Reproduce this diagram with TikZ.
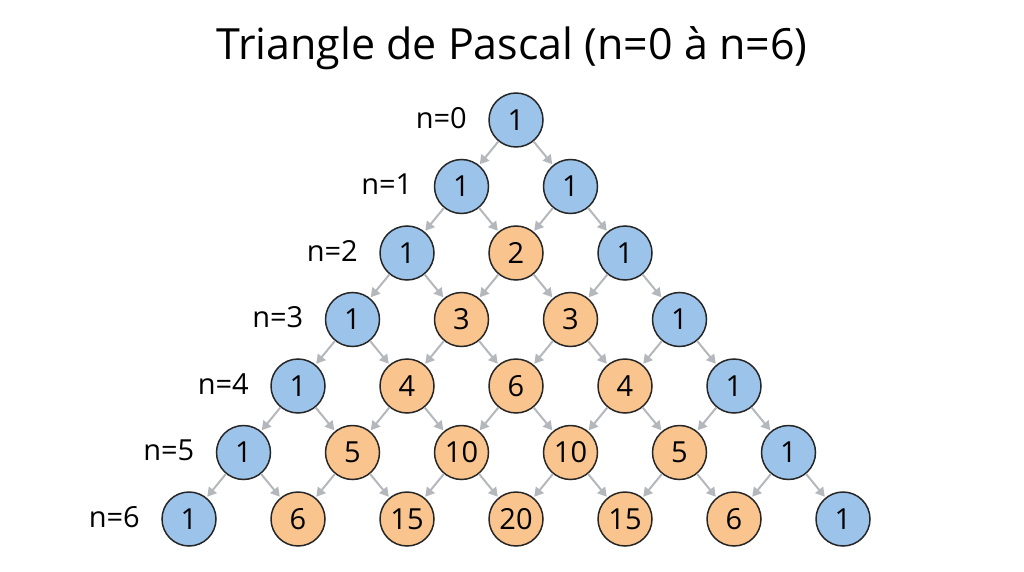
\documentclass[tikz,border=0pt]{standalone}
\usepackage{fontspec}
\setmainfont{Open Sans}
\usetikzlibrary{arrows.meta}
\definecolor{bl}{HTML}{9CC3EA}
\definecolor{or}{HTML}{F9C48D}
\definecolor{ar}{HTML}{B4B8BC}
\begin{document}
\begin{tikzpicture}[x=1pt,y=-1pt,
  cell/.style={circle,draw=black!85,line width=1.5pt,minimum size=54pt,inner sep=0pt,font=\fontsize{29}{32}\selectfont},
  edgecell/.style={cell,fill=bl},
  midcell/.style={cell,fill=or},
  lab/.style={font=\fontsize{29}{32}\selectfont,anchor=east},
  link/.style={draw=ar,line width=2pt,-{Triangle[length=9pt,width=10pt]},shorten >=1pt,shorten <=0pt}]
\useasboundingbox (0,0) rectangle (1024,572);
\node[font=\fontsize{43}{48}\selectfont] (title) at (512,48) {Triangle de Pascal (n=0 à n=6)};
\foreach \n/\vals in {0/{1},1/{1,1},2/{1,2,1},3/{1,3,3,1},4/{1,4,6,4,1},5/{1,5,10,10,5,1},6/{1,6,15,20,15,6,1}}{
  \foreach \v [count=\k from 0] in \vals {
    \pgfmathsetmacro\xx{516+(\k-\n/2)*109}
    \pgfmathsetmacro\yy{120+\n*66.5}
    \ifnum\k=0 \def\st{edgecell}\else\ifnum\k=\n \def\st{edgecell}\else\def\st{midcell}\fi\fi
    \node[\st] (c\n-\k) at (\xx,\yy) {\v};
  }
  \node[lab] (l\n) at ([xshift=-18pt,yshift=2pt]c\n-0.west) {n=\n};
}
\foreach \n in {0,...,5}{
  \pgfmathtruncatemacro\m{\n+1}
  \foreach \k in {0,...,\n}{
    \pgfmathtruncatemacro\kk{\k+1}
    \draw[link] (c\n-\k) -- (c\m-\k);
    \draw[link] (c\n-\k) -- (c\m-\kk);
  }
}
\end{tikzpicture}
\end{document}
